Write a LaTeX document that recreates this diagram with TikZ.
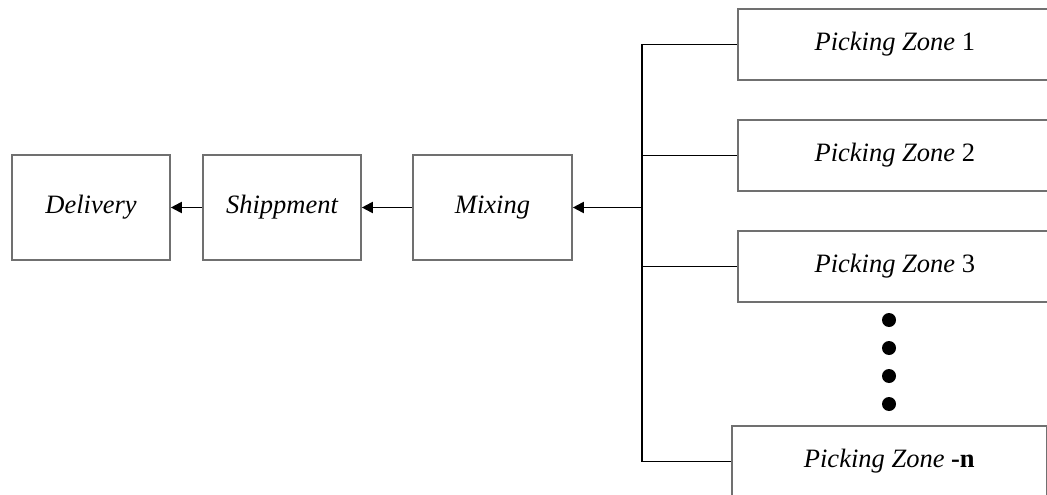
\documentclass[tikz,border=0pt]{standalone}
\usepackage{fontspec}
\setmainfont{Liberation Serif}
\usetikzlibrary{arrows.meta}
\definecolor{boxline}{HTML}{707070}
\tikzset{
  stage/.style={draw=boxline, line width=1.6pt, fill=white, rectangle,
    minimum width=158pt, minimum height=105pt, inner sep=0pt,
    font=\fontsize{26.5}{30}\selectfont\itshape},
  zone/.style={draw=boxline, line width=1.6pt, fill=white, rectangle,
    minimum width=340pt, minimum height=71pt, inner sep=0pt, anchor=west},
  zonetext/.style 2 args={label={[xshift=#1, font=\fontsize{26.5}{30}\selectfont]center:#2}},
  link/.style={draw=black, line width=1.8pt},
  flow/.style={link, -{Triangle[length=11pt,width=11pt]}},
  dotmark/.style={circle, fill=black, inner sep=0pt, minimum size=14pt}
}
\begin{document}
\begin{tikzpicture}[x=1pt, y=-1pt]
  \useasboundingbox (0,0) rectangle (1047,495);
  \clip (0,0) rectangle (1047,495);
  \fill[white] (0,0) rectangle (1047,495);

  % process chain
  \node[stage] (delivery) at (91,207.5) {Delivery};
  \node[stage] (ship) at (282,207.5) {Shippment};
  \node[stage, minimum width=159pt] (mix) at (492.5,207.5) {Mixing};

  % picking zones (the upper three run past the page edge)
  \node[zone, zonetext={-13pt}{\textit{Picking Zone} 1}] (pz1) at (737,44.5) {};
  \node[zone, zonetext={-13pt}{\textit{Picking Zone} 2}] (pz2) at (737,155.5) {};
  \node[zone, zonetext={-13pt}{\textit{Picking Zone} 3}] (pz3) at (737,266.5) {};
  \node[zone, minimum width=315pt, zonetext={0pt}{\textit{Picking Zone} \textbf{-n}}] (pzn) at (731,461.5) {};

  % ellipsis between zone 3 and zone n
  \node[dotmark] (d1) at (889,320) {};
  \node[dotmark] (d2) at (889,348) {};
  \node[dotmark] (d3) at (889,376) {};
  \node[dotmark] (d4) at (889,404) {};

  % collector trunk
  \coordinate (trunk) at (642,207.5);
  \draw[link] (pz1.west) -- (pz1.west -| trunk) -- (pzn.west -| trunk) -- (pzn.west);
  \draw[link] (pz2.west) -- (pz2.west -| trunk);
  \draw[link] (pz3.west) -- (pz3.west -| trunk);

  % flow arrows
  \draw[flow] (trunk) -- (mix.east);
  \draw[flow] (mix.west) -- (ship.east);
  \draw[flow] (ship.west) -- (delivery.east);
\end{tikzpicture}
\end{document}
